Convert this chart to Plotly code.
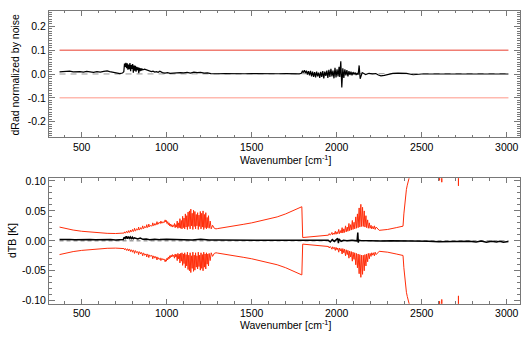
import plotly.graph_objects as go

# ---------------- upper panel: radiance difference normalised by noise ----------------
drad_wn = [370, 390, 410, 430, 450, 470, 490, 510, 530, 550, 570, 590, 610, 630, 650, 665, 680,
           695, 710, 725, 740, 748, 752, 756, 760, 764, 768, 772, 776, 780, 784, 788, 792, 796,
           800, 804, 808, 812, 816, 820, 824, 828, 832, 836, 840, 844, 848, 852, 856, 860, 870,
           880, 890, 900, 910, 920, 930, 940, 950, 960, 975, 990, 1005, 1020, 1040, 1060, 1080,
           1100, 1120, 1140, 1160, 1180, 1200, 1220, 1240, 1260, 1280, 1300, 1340, 1380, 1420,
           1460, 1500, 1540, 1580, 1620, 1660, 1700, 1740, 1780, 1792, 1798, 1804, 1810, 1816,
           1822, 1828, 1834, 1840, 1846, 1852, 1858, 1864, 1870, 1876, 1882, 1888, 1894, 1900,
           1906, 1912, 1918, 1924, 1930, 1936, 1942, 1948, 1954, 1960, 1966, 1972, 1978, 1984,
           1990, 1996, 2002, 2008, 2014, 2018, 2024, 2030, 2036, 2042, 2048, 2054, 2060, 2066,
           2072, 2078, 2084, 2090, 2096, 2102, 2108, 2114, 2120, 2126, 2132, 2138, 2150, 2170,
           2190, 2210, 2230, 2245, 2260, 2280, 2300, 2330, 2360, 2390, 2400, 2410, 2450, 2500,
           2600, 2700, 2800, 2900, 3010]
drad_val = [0.009, 0.011, 0.010, 0.012, 0.009, 0.011, 0.010, 0.008, 0.011, 0.009, 0.007, 0.010,
            0.008, 0.011, 0.013, 0.010, 0.008, 0.003, 0.004, 0.002, 0.004, 0.010, 0.044, 0.030,
            0.047, 0.025, 0.045, 0.018, 0.040, 0.020, 0.046, 0.012, 0.038, 0.022, 0.042, 0.006,
            0.036, 0.014, 0.034, 0.010, 0.030, 0.016, 0.028, 0.004, 0.026, 0.012, 0.024, 0.015,
            0.022, 0.018, 0.020, 0.017, 0.015, 0.013, 0.010, 0.012, 0.008, 0.010, 0.007, 0.012,
            0.006, 0.004, 0.006, 0.003, 0.005, 0.004, 0.006, 0.005, 0.007, 0.004, 0.008, 0.006,
            0.007, 0.004, 0.005, 0.002, 0.003, 0.001, 0.002, 0.001, 0.002, 0.001, 0.002, 0.001,
            0.002, 0.001, 0.001, 0.002, 0.001, 0.001, 0.003, 0.012, 0.006, 0.016, 0.004, 0.014,
            -0.002, 0.012, -0.006, 0.013, -0.010, 0.010, -0.012, 0.008, -0.014, 0.010, -0.010,
            0.006, -0.016, 0.009, -0.012, 0.012, -0.018, 0.010, -0.008, 0.014, -0.016, 0.018,
            -0.012, 0.022, -0.010, 0.014, -0.018, 0.026, -0.014, 0.020, -0.010, 0.030, -0.012,
            0.053, -0.056, 0.024, -0.016, 0.020, -0.006, 0.016, -0.010, 0.012, -0.004, 0.010,
            -0.006, 0.008, -0.002, 0.006, -0.004, 0.004, -0.003, 0.036, -0.020, 0.006, -0.002,
            0.003, 0.001, 0.002, -0.004, -0.008, -0.006, -0.002, 0.003, 0.004, 0.003, 0.002,
            0.003, -0.003, 0.000, 0.000, 0.000, 0.000, 0.000, 0.000, 0.000]

ref_wn = [370, 2450, 2460, 3010]
ref_val = [0.000, 0.000, 0.002, 0.002]

noise_limit = [0.1, -0.1]
limit_wn = [370, 3010]

# ---------------- lower panel: brightness temperature differences ----------------
# instrument noise envelope (drawn as +/-), ten samples per row
noise_wn = [
    370, 400, 450, 500, 550, 600, 650, 700, 740, 750,
    753, 757, 761, 764, 768, 772, 775, 779, 783, 787,
    790, 794, 799, 803, 806, 811, 815, 819, 822, 827,
    831, 835, 838, 843, 847, 851, 854, 859, 863, 867,
    870, 875, 879, 883, 886, 891, 895, 899, 902, 907,
    911, 915, 918, 923, 927, 931, 934, 939, 943, 947,
    950, 955, 959, 963, 966, 971, 975, 979, 982, 987,
    991, 995, 998, 1002, 1006, 1010, 1014, 1018, 1022, 1026,
    1030, 1034, 1038, 1042, 1046, 1050, 1054, 1058, 1062, 1066,
    1070, 1074, 1078, 1082, 1086, 1090, 1094, 1098, 1102, 1106,
    1110, 1114, 1118, 1122, 1126, 1130, 1134, 1138, 1142, 1146,
    1150, 1154, 1158, 1162, 1166, 1170, 1174, 1178, 1182, 1186,
    1190, 1194, 1198, 1202, 1206, 1210, 1214, 1218, 1222, 1226,
    1230, 1234, 1238, 1242, 1246, 1250, 1256, 1262, 1270, 1280,
    1290, 1300, 1350, 1400, 1450, 1500, 1550, 1600, 1650, 1700,
    1750, 1795, 1800, 1850, 1900, 1940, 1952, 1956, 1962, 1966,
    1972, 1976, 1982, 1986, 1992, 1996, 2002, 2006, 2012, 2016,
    2022, 2026, 2032, 2036, 2042, 2046, 2052, 2056, 2062, 2066,
    2072, 2076, 2082, 2086, 2092, 2096, 2102, 2106, 2112, 2116,
    2122, 2126, 2132, 2136, 2142, 2146, 2152, 2156, 2162, 2166,
    2172, 2176, 2182, 2186, 2192, 2196, 2202, 2206, 2212, 2216,
    2222, 2226, 2232, 2250, 2300, 2350, 2390, 2395, 2400, 2405,
    2410, 2415, 2420, 2425, 2435, 2450, 2500, 2550, 2600, 2603,
    2605, 2607, 2615, 2618, 2621, 2650, 2713, 2716, 2719, 2800,
    2900, 3010]
noise_val = [
    0.023, 0.021, 0.018, 0.016, 0.0145, 0.0135, 0.0125, 0.0122, 0.0125, 0.013,
    0.015, 0.013, 0.014, 0.016, 0.0135, 0.014, 0.017, 0.014, 0.0145, 0.018,
    0.015, 0.0155, 0.019, 0.0155, 0.016, 0.021, 0.0165, 0.017, 0.020, 0.0175,
    0.018, 0.023, 0.0185, 0.019, 0.022, 0.0195, 0.020, 0.025, 0.0205, 0.021,
    0.024, 0.0215, 0.022, 0.027, 0.0225, 0.023, 0.028, 0.0235, 0.024, 0.026,
    0.0245, 0.025, 0.030, 0.0255, 0.026, 0.029, 0.0265, 0.027, 0.032, 0.0275,
    0.028, 0.031, 0.0285, 0.029, 0.033, 0.0295, 0.030, 0.032, 0.0305, 0.031,
    0.035, 0.0315, 0.034, 0.029, 0.032, 0.027, 0.030, 0.025, 0.028, 0.024,
    0.027, 0.023, 0.026, 0.024, 0.029, 0.022, 0.027, 0.023, 0.033, 0.021,
    0.030, 0.022, 0.037, 0.021, 0.034, 0.020, 0.041, 0.022, 0.038, 0.020,
    0.045, 0.023, 0.042, 0.019, 0.048, 0.024, 0.050, 0.020, 0.053, 0.025,
    0.046, 0.019, 0.051, 0.024, 0.049, 0.020, 0.044, 0.025, 0.047, 0.019,
    0.043, 0.024, 0.049, 0.020, 0.046, 0.023, 0.050, 0.019, 0.044, 0.022,
    0.047, 0.020, 0.039, 0.022, 0.042, 0.021, 0.033, 0.020, 0.026, 0.021,
    0.020, 0.0205, 0.0225, 0.025, 0.0275, 0.030, 0.033, 0.036, 0.040, 0.045,
    0.051, 0.057, 0.0055, 0.0065, 0.0078, 0.009, 0.0095, 0.012, 0.0095, 0.011,
    0.014, 0.010, 0.013, 0.011, 0.016, 0.011, 0.015, 0.012, 0.019, 0.012,
    0.017, 0.013, 0.022, 0.013, 0.020, 0.014, 0.025, 0.015, 0.023, 0.016,
    0.029, 0.017, 0.027, 0.018, 0.034, 0.019, 0.031, 0.020, 0.040, 0.021,
    0.045, 0.022, 0.055, 0.023, 0.061, 0.024, 0.056, 0.024, 0.050, 0.023,
    0.042, 0.022, 0.035, 0.021, 0.030, 0.021, 0.026, 0.020, 0.024, 0.020,
    0.025, 0.019, 0.023, 0.0175, 0.019, 0.022, 0.0245, 0.045, 0.063, 0.077,
    0.086, 0.093, 0.100, 0.106, 0.115, 0.125, 0.140, 0.150, 0.155, 0.155,
    0.101, 0.155, 0.155, 0.098, 0.156, 0.157, 0.160, 0.092, 0.160, 0.160,
    0.160, 0.160]

dtb_wn = [370, 400, 430, 460, 490, 520, 550, 580, 610, 640, 670, 700, 730, 745, 750, 756, 762,
          768, 774, 780, 786, 792, 798, 804, 810, 820, 830, 845, 860, 880, 900, 930, 960, 1000,
          1050, 1100, 1150, 1200, 1250, 1300, 1400, 1500, 1600, 1700, 1790, 1850, 1900, 1950,
          1962, 1974, 1986, 1998, 2006, 2010, 2014, 2026, 2040, 2060, 2090, 2120, 2124, 2127,
          2130, 2140, 2170, 2200, 2260, 2320, 2380, 2420, 2480, 2540, 2600, 2660, 2720, 2780,
          2820, 2850, 2880, 2910, 2940, 2960, 2980, 3010]
dtb_val = [0.002, 0.0025, 0.002, 0.0018, 0.0022, 0.0015, 0.002, 0.0017, 0.0022, 0.0018, 0.0021,
           0.0015, 0.002, 0.002, 0.006, 0.004, 0.0075, 0.0035, 0.007, 0.004, 0.0065, 0.003,
           0.006, 0.0035, 0.005, 0.004, 0.003, 0.0045, 0.0025, 0.003, 0.002, 0.0028, 0.002,
           0.0025, 0.0018, 0.0022, 0.0015, 0.0025, 0.0012, 0.0015, 0.001, 0.0012, 0.0008, 0.0009,
           0.0006, 0.0004, 0.0006, 0.001, -0.002, 0.002, -0.001, 0.003, 0.004, -0.004, 0.003,
           -0.001, 0.001, 0.0, 0.001, 0.0, 0.014, -0.003, 0.001, 0.0005, 0.0, 0.0002, -0.0003,
           0.0, 0.0, -0.001, -0.0012, -0.0008, -0.0015, -0.001, -0.0012, -0.0008, -0.002,
           -0.0005, -0.0025, -0.0008, -0.002, -0.0006, -0.0022, -0.001]

dtb_ref_wn = [370, 3010]
dtb_ref_val = [0.0, 0.0]

RED = "rgb(255,45,10)"
FRAME = "rgb(120,120,120)"
FONT = "Liberation Sans"
FS = 10.5

fig = go.Figure()

# upper panel traces
fig.add_trace(go.Scatter(x=limit_wn, y=[noise_limit[0]] * 2, mode="lines",
                         line=dict(color="rgb(240,125,115)", width=1.5),
                         xaxis="x", yaxis="y", showlegend=False))
fig.add_trace(go.Scatter(x=limit_wn, y=[noise_limit[1]] * 2, mode="lines",
                         line=dict(color="rgb(255,185,175)", width=1.5),
                         xaxis="x", yaxis="y", showlegend=False))
fig.add_trace(go.Scatter(x=ref_wn, y=ref_val, mode="lines",
                         line=dict(color="rgb(150,150,150)", width=1, dash="6px,5px"),
                         xaxis="x", yaxis="y", showlegend=False))
fig.add_trace(go.Scatter(x=drad_wn, y=drad_val, mode="lines",
                         line=dict(color="black", width=1.2),
                         xaxis="x", yaxis="y", showlegend=False))

# lower panel traces
fig.add_trace(go.Scatter(x=noise_wn, y=noise_val, mode="lines",
                         line=dict(color=RED, width=1),
                         xaxis="x2", yaxis="y2", showlegend=False))
fig.add_trace(go.Scatter(x=noise_wn, y=[-v for v in noise_val], mode="lines",
                         line=dict(color=RED, width=1),
                         xaxis="x2", yaxis="y2", showlegend=False))
fig.add_trace(go.Scatter(x=dtb_ref_wn, y=dtb_ref_val, mode="lines",
                         line=dict(color="rgb(160,160,160)", width=1.5, dash="4px,3px"),
                         xaxis="x2", yaxis="y2", showlegend=False))
fig.add_trace(go.Scatter(x=dtb_wn, y=dtb_val, mode="lines",
                         line=dict(color="black", width=1.5),
                         xaxis="x2", yaxis="y2", showlegend=False))

W, H = 529, 337
x_dom = [49 / W, 520 / W]
top_dom = [1 - 136 / H, 1 - 7 / H]
bot_dom = [1 - 306 / H, 1 - 178 / H]

tickfont = dict(family=FONT, size=FS, color="black")


def xaxis_style(anchor):
    return dict(domain=x_dom, anchor=anchor, range=[308, 3078], showgrid=False,
                zeroline=False, showline=True, linecolor=FRAME, linewidth=1,
                mirror="allticks", ticks="inside", ticklen=5, tickcolor=FRAME,
                tickvals=[500, 1000, 1500, 2000, 2500, 3000],
                ticktext=["500", "1000", "1500", "2000", "2500", "3000"],
                tickfont=tickfont,
                minor=dict(ticks="inside", ticklen=2.5, tickcolor=FRAME, dtick=100,
                           tick0=0, showgrid=False))


def yaxis_style(anchor, dom, rng, tickvals, ticktext, minor_step):
    return dict(domain=dom, anchor=anchor, range=rng, showgrid=False, zeroline=False,
                showline=True, linecolor=FRAME, linewidth=1, mirror="allticks",
                ticks="inside", ticklen=6, tickcolor=FRAME, tickvals=tickvals,
                ticktext=ticktext, tickfont=tickfont,
                minor=dict(ticks="inside", ticklen=3, tickcolor=FRAME, dtick=minor_step,
                           tick0=0, showgrid=False))


fig.update_layout(
    width=W, height=H, margin=dict(l=0, r=0, t=0, b=0),
    paper_bgcolor="white", plot_bgcolor="white",
    font=dict(family=FONT, size=FS, color="black"),
    xaxis=xaxis_style("y"),
    xaxis2=xaxis_style("y2"),
    yaxis=yaxis_style("x", top_dom, [-0.265, 0.265],
                      [-0.2, -0.1, 0.0, 0.1, 0.2], ["-0.2", "-0.1", "0.0", "0.1", "0.2"], 0.01),
    yaxis2=yaxis_style("x2", bot_dom, [-0.105, 0.1045],
                       [-0.10, -0.05, 0.0, 0.05, 0.10],
                       ["-0.10", "-0.05", "0.00", "0.05", "0.10"], 0.01),
    annotations=[
        dict(text="dRad normalized by noise", x=15 / W, y=1 - 72 / H, xref="paper",
             yref="paper", textangle=-90, showarrow=False, xanchor="center",
             yanchor="middle", font=dict(family=FONT, size=FS)),
        dict(text="Wavenumber [cm<sup>-1</sup>]", x=285 / W, y=1 - 158.5 / H, xref="paper",
             yref="paper", showarrow=False, xanchor="center", yanchor="middle",
             font=dict(family=FONT, size=FS)),
        dict(text="dTB [K]", x=12 / W, y=1 - 242 / H, xref="paper", yref="paper",
             textangle=-90, showarrow=False, xanchor="center", yanchor="middle",
             font=dict(family=FONT, size=FS)),
        dict(text="Wavenumber [cm<sup>-1</sup>]", x=285 / W, y=1 - 327 / H, xref="paper",
             yref="paper", showarrow=False, xanchor="center", yanchor="middle",
             font=dict(family=FONT, size=FS)),
    ],
)

fig.write_html("out.html")
